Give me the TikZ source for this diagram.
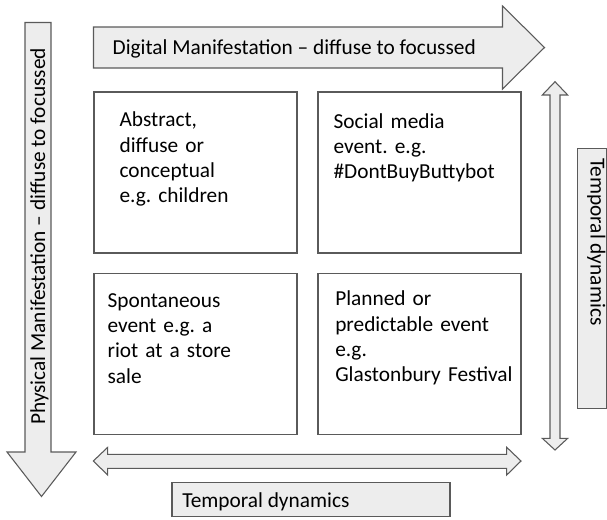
\documentclass[tikz,border=0pt]{standalone}
\usepackage{fontspec}
\setmainfont{Carlito}
\frenchspacing
\definecolor{shaftgray}{RGB}{237,237,237}
\definecolor{edgegray}{RGB}{90,90,90}

\begin{document}
\begin{tikzpicture}[x=0.75pt,y=-0.75pt]
\tikzstyle{block}=[draw=edgegray,line width=0.8pt,fill=shaftgray,line join=miter]
\tikzstyle{quad}=[draw=edgegray,line width=0.8pt,rectangle,minimum width=152.25pt,minimum height=120.75pt,inner sep=0pt]
\tikzstyle{tag}=[draw=edgegray,line width=0.8pt,fill=shaftgray,rectangle,inner sep=0pt]
\tikzstyle{blurb}=[inner sep=0pt,anchor=base west,align=left,text width=170pt,font=\fontsize{16}{19}\selectfont]
\tikzstyle{caption}=[inner sep=0pt,anchor=base west,font=\fontsize{16}{19}\selectfont]
\useasboundingbox (0,0) rectangle (607,519);
\draw [block] (93.5,27) -- (502.5,27) -- (502.5,6) -- (544.5,47.5) -- (502.5,89) -- (502.5,68) -- (93.5,68) -- cycle;
\draw [block] (25,22.5) -- (51,22.5) -- (51,452) -- (76,452) -- (41.5,496.5) -- (7,452) -- (25,452) -- cycle;
\draw [block] (555,81.7) -- (567.7,95) -- (560,95) -- (560,438.3) -- (567.7,438.3) -- (555,450) -- (542.3,438.3) -- (550,438.3) -- (550,95) -- (542.3,95) -- cycle;
\draw [block] (93.3,461) -- (107.7,447.3) -- (107.7,454.3) -- (506.7,454.3) -- (506.7,447.3) -- (521,461) -- (506.7,475) -- (506.7,468.3) -- (107.7,468.3) -- (107.7,475) -- cycle;
\node [quad] (abstract) at (195.5,172.5) {};
\node [quad] (social) at (419.5,172.5) {};
\node [quad] (riot) at (195.5,354) {};
\node [quad] (planned) at (419.5,354) {};
\node [tag,minimum width=21.25pt,minimum height=195pt] (timebox) at (592,278.3) {};
\node [tag,minimum width=208.5pt,minimum height=25.8pt] (timetag) at (311,499.5) {};
\node [blurb] (abstracttext) at (119.3,126.7) {Abstract,\\diffuse or\\conceptual\\e.g. children};
\node [blurb] (socialtext) at (333.3,128.3) {Social media\\event. e.g.\\\#DontBuyButtybot};
\node [blurb] (riottext) at (107.3,307.3) {Spontaneous\\event e.g. a\\riot at a store\\sale};
\node [blurb] (plannedtext) at (335,305.7) {Planned or\\predictable event\\e.g.\\Glastonbury Festival};
\node [caption] (digital) at (112.4,54.3) {Digital Manifestation – diffuse to focussed};
\node [caption,rotate=90] (physical) at (45,425) {Physical Manifestation – diffuse to focussed};
\node [caption,rotate=-90] (timeside) at (590.5,158) {Temporal dynamics};
\node [caption] (timebottom) at (182,507.7) {Temporal dynamics};
\end{tikzpicture}
\end{document}
